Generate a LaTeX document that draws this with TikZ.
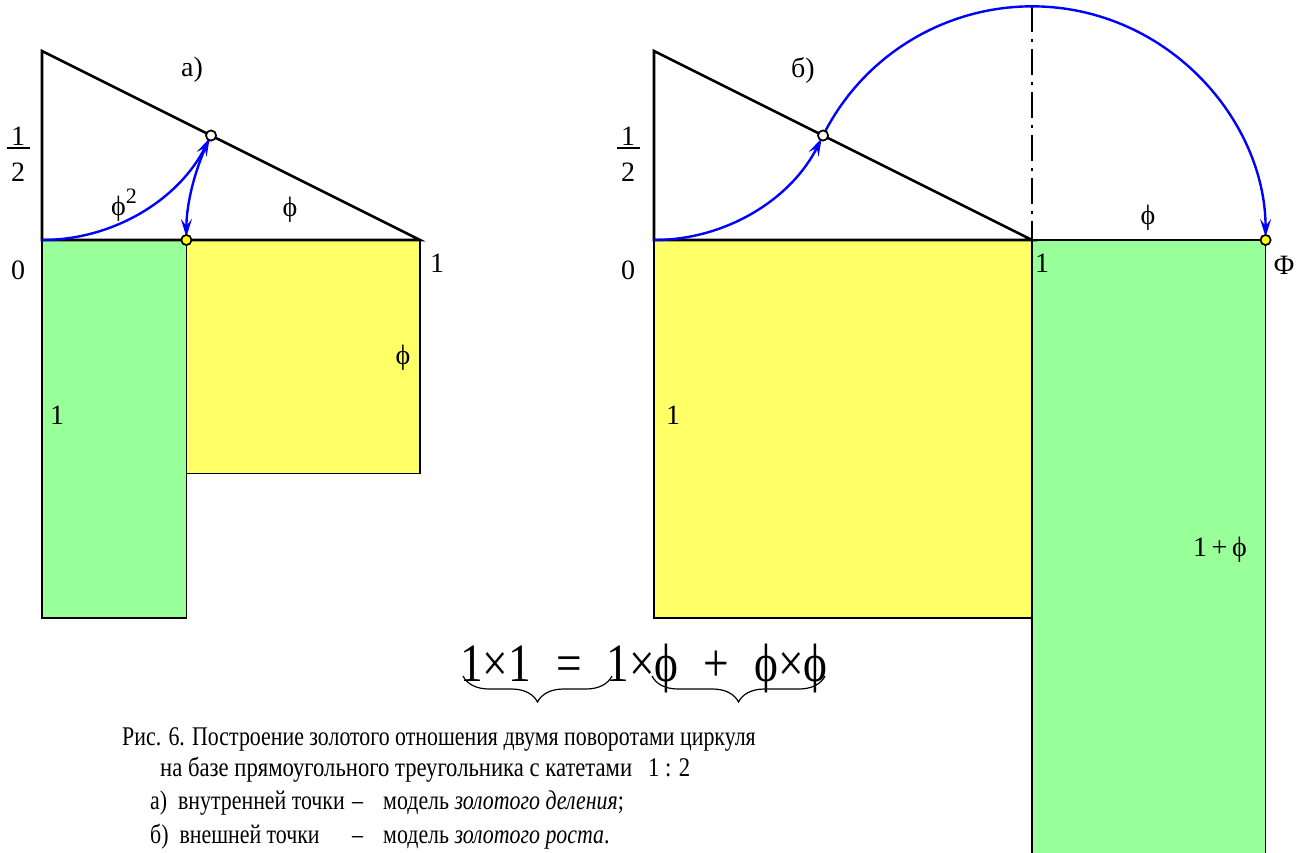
\documentclass[tikz,border=0pt]{standalone}
\usepackage{fontspec}
\setmainfont{Liberation Serif}
\usetikzlibrary{arrows.meta,decorations.pathreplacing}
\definecolor{lgreen}{HTML}{99FF99}
\definecolor{lyellow}{HTML}{FFFF66}
\definecolor{ptyellow}{HTML}{FFFF00}
\newcommand{\cx}[1]{\scalebox{0.81}[1]{#1}}
\newcommand{\cxb}[1]{\scalebox{0.84}[1]{#1}}
\begin{document}
\begin{tikzpicture}[x=1pt,y=-1pt,
  lab/.style={font=\fontsize{28}{30}\selectfont, inner sep=0pt},
  captxt/.style={font=\fontsize{27}{30}\selectfont, inner sep=0pt, anchor=base west},
  tri/.style={line width=2.6pt, line join=miter, line cap=rect},
  rectb/.style={line width=1.6pt},
  compass/.style={blue, line width=2.4pt, -{Stealth[length=18pt,width=11pt,inset=7pt]}, shorten >=3pt},
  ptw/.style={circle, draw, line width=1.6pt, fill=white, minimum size=10pt, inner sep=0pt},
  pty/.style={circle, draw, line width=1.6pt, fill=ptyellow, minimum size=10pt, inner sep=0pt},
  brc/.style={decorate, decoration={brace, amplitude=26pt, mirror}, line width=1.2pt}
]
\useasboundingbox (0,0) rectangle (1304,852);

% ---------- a) ----------
\coordinate (aO) at (42,240);
\coordinate (aT) at (42,51);
\coordinate (aR) at (420,240);
\coordinate (aY) at (186.4,240);
\fill[lgreen] (42,240) rectangle (186.4,618);
\fill[lyellow] (186.4,240) rectangle (420,473.6);
\draw[rectb] (42,240) -- (42,618) -- (186.4,618) -- (186.4,240);
\draw[rectb] (186.4,473.6) -- (420,473.6) -- (420,240);
\draw[tri] (aT) -- (aO) -- (aR) -- cycle;

\node[ptw] (aP) at (211.05,135.5) {};
\node[pty] (aQ) at (aY) {};
\draw[compass] (aO) arc[start angle=90, end angle=26.565, radius=189];
\draw[compass] (aP) arc[start angle=206.565, end angle=180, radius=233.6];
\node[ptw] at (aP) {};
\node[pty] at (aQ) {};

\node[lab] (a1) at (192,70) {а)};
\node[lab] (ah1) at (18,136) {1};
\node[lab] (ah2) at (18,172) {2};
\draw[line width=1.4pt] (7,148) -- (30,148);
\node[lab] (aphi2) at (124,205) {ϕ\raisebox{12pt}{\fontsize{22}{22}\selectfont 2}};
\node[lab] (aphi) at (290,210) {ϕ};
\node[lab] (a0) at (18,270) {0};
\node[lab] (aone) at (437,263) {1};
\node[lab] (aphir) at (403,358) {ϕ};
\node[lab] (aonel) at (57,415) {1};

% ---------- b) ----------
\coordinate (bO) at (654,240);
\coordinate (bT) at (654,51);
\coordinate (bR) at (1032,240);
\coordinate (bF) at (1265.6,240);
\coordinate (bTop) at (1032,6.4);
\fill[lyellow] (654,240) rectangle (1032,618);
\fill[lgreen] (1032,240) rectangle (1265.6,870);
\draw[rectb] (654,240) -- (654,618) -- (1032,618);
\draw[rectb] (1032,240) -- (1032,870);
\draw[rectb] (1265.6,240) -- (1265.6,870);
\draw[line width=2pt, dash pattern=on 26pt off 7pt on 3pt off 7pt] (bTop) -- (bR);
\draw[tri] (bT) -- (bO) -- (bR) -- cycle;
\draw[tri] (bR) -- (bF);

\node[ptw] (bP) at (823.05,135.5) {};
\node[pty] (bQ) at (bF) {};
\draw[compass] (bO) arc[start angle=90, end angle=26.565, radius=189];
\draw[compass] (bP) arc[start angle=206.565, end angle=360, radius=233.6];
\node[ptw] at (bP) {};
\node[pty] at (bQ) {};

\node[lab] (b1) at (803,70) {б)};
\node[lab] (bh1) at (628,136) {1};
\node[lab] (bh2) at (628,172) {2};
\draw[line width=1.4pt] (617,148) -- (640,148);
\node[lab] (b0) at (628,270) {0};
\node[lab, anchor=west] (bone) at (1035,263) {1};
\node[lab] (bPhi) at (1284,265) {Φ};
\node[lab] (bphi) at (1148,218) {ϕ};
\node[lab] (bonel) at (673,415) {1};
\node[lab] (bsum) at (1220,550) {1\,+\,ϕ};

% ---------- equation ----------
\node[inner sep=0pt, anchor=base west, font=\fontsize{54}{56}\selectfont] (eq) at (460,681)
  {\scalebox{0.84}[1]{1×1\hspace{0.55em}=\hspace{0.55em}1×ϕ\hspace{0.55em}+\hspace{0.55em}ϕ×ϕ}};
\coordinate (br1a) at (463,676);
\coordinate (br1b) at (612,676);
\coordinate (br2a) at (652,676);
\coordinate (br2b) at (825,676);
\draw[brc] (br1a) -- (br1b);
\draw[brc] (br2a) -- (br2b);

% ---------- caption ----------
\node[captxt] (c1) at (122,745) {\cx{Рис. 6. Построение золотого отношения двумя поворотами циркуля}};
\node[captxt] (c2) at (160,776) {\cxb{на базе прямоугольного треугольника с катетами\hspace{0.7em}1 : 2}};
\node[captxt] (c3a) at (150,809) {\cx{а) \ внутренней точки}};
\node[captxt] (c3b) at (352,809) {\cx{–}};
\node[captxt] (c3c) at (383,809) {\cx{модель \textit{золотого деления};}};
\node[captxt] (c4a) at (150,843) {\cx{б) \ внешней точки}};
\node[captxt] (c4b) at (352,843) {\cx{–}};
\node[captxt] (c4c) at (383,843) {\cx{модель \textit{золотого роста}.}};
\end{tikzpicture}
\end{document}
